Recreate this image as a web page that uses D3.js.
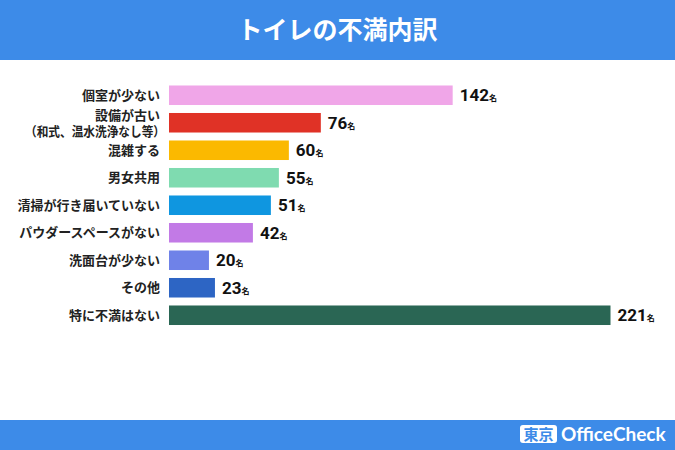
<!DOCTYPE html>
<html>
<head>
<meta charset="utf-8">
<script src="https://cdn.jsdelivr.net/npm/d3@7"></script>
<style>
  body { margin: 0; background: #fff; }
  svg { display: block; font-family: "Noto Sans CJK JP", "Noto Sans", sans-serif; }
</style>
</head>
<body>
<script>
const categories = ["個室が少ない", "設備が古い\n（和式、温水洗浄なし等）", "混雑する", "男女共用",
  "清掃が行き届いていない", "パウダースペースがない", "洗面台が少ない", "その他", "特に不満はない"];
const counts = [142, 76, 60, 55, 51, 42, 20, 23, 221];
const colors = ["#f0a6e8", "#e03226", "#fbb900", "#7fdbb0", "#0f96e0", "#c27ae6", "#6f82e8", "#2d65c4", "#2a6654"];
const title = "トイレの不満内訳";
const unit = "名";

const W = 675, H = 450;
const svg = d3.select("body").append("svg").attr("width", W).attr("height", H);

// header / footer bands
svg.append("rect").attr("width", W).attr("height", 60).attr("fill", "#3d8be8");
svg.append("rect").attr("y", 420).attr("width", W).attr("height", 30).attr("fill", "#3d8be8");
svg.append("text").attr("x", W / 2).attr("y", 39).attr("text-anchor", "middle")
  .attr("fill", "#fff").attr("font-size", 25).attr("font-weight", 700).text(title);

const x = d3.scaleLinear().domain([0, 221]).range([169, 610.5]);
const y = d3.scaleBand().domain(d3.range(categories.length)).range([81.5, 329]).paddingInner(0.29).paddingOuter(0.145);

const g = svg.append("g");
g.selectAll("rect.bar").data(counts).join("rect")
  .attr("class", "bar")
  .attr("x", x(0))
  .attr("y", (d, i) => y(i))
  .attr("width", d => x(d) - x(0))
  .attr("height", y.bandwidth())
  .attr("fill", (d, i) => colors[i]);

// category labels
g.selectAll("text.cat").data(categories).join("text")
  .attr("class", "cat")
  .attr("text-anchor", "end")
  .attr("font-size", 13).attr("font-weight", 700).attr("fill", "#222")
  .each(function (d, i) {
    const lines = d.split("\n");
    const cy = y(i) + y.bandwidth() / 2;
    const t = d3.select(this);
    lines.forEach((ln, k) => {
      const s = t.append("tspan").attr("x", 160)
        .attr("y", cy + 4.5 + (lines.length > 1 ? 1 : 0) + (k - (lines.length - 1) / 2) * 16).text(ln);
      if (ln.startsWith("（")) {
        s.attr("x", 165).attr("textLength", 140).attr("lengthAdjust", "spacingAndGlyphs");
      }
    });
  });

// value labels
const vl = g.selectAll("text.val").data(counts).join("text")
  .attr("class", "val")
  .attr("x", d => x(d) + 7)
  .attr("y", (d, i) => y(i) + y.bandwidth() / 2 + 6)
  .attr("fill", "#111").attr("font-family", "Roboto, sans-serif");
vl.append("tspan").attr("font-size", 17).attr("font-weight", 700).text(d => d);
vl.append("tspan").attr("font-size", 8).attr("font-weight", 700)
  .attr("font-family", "Noto Sans CJK JP").text(unit);

// logo
const logo = svg.append("g").attr("transform", "translate(520,425)");
logo.append("rect").attr("width", 37).attr("height", 18).attr("rx", 3).attr("fill", "#fff");
logo.append("text").attr("x", 18.5).attr("y", 14.5).attr("text-anchor", "middle")
  .attr("fill", "#3d8be8").attr("font-size", 15).attr("font-weight", 700).text("東京");
logo.append("text").attr("x", 41).attr("y", 16).attr("fill", "#fff")
  .attr("font-family", "Lato, sans-serif").attr("font-size", 19).attr("font-weight", 700)
  .text("OfficeCheck");
</script>
</body>
</html>
